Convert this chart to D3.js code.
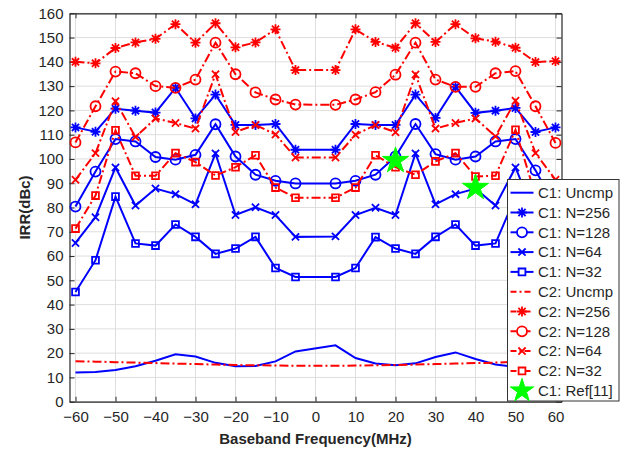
<!DOCTYPE html>
<html>
<head>
<meta charset="utf-8">
<script src="https://cdn.jsdelivr.net/npm/d3@7"></script>
<style>
  body { margin: 0; background: #fff; }
  svg { font-family: "Liberation Sans", Arial, sans-serif; }
</style>
</head>
<body>
<div id="chart"></div>
<script>
// frequencies (MHz) - no point at 0, lines just join -5 and 5
const freqs = [-60, -55, -50, -45, -40, -35, -30, -25, -20, -15, -10, -5,
               5, 10, 15, 20, 25, 30, 35, 40, 45, 50, 55, 60];

const c1Uncmp = [12.0, 12.2, 13.1, 14.6, 16.9, 19.5, 18.6, 16.0, 14.6, 14.7, 16.6, 20.7,
                 23.2, 18.0, 15.7, 15.0, 15.8, 18.4, 20.3, 17.6, 15.3, 14.3, 13.5, 12.5];
const c1N256 = [113, 111.2, 120.7, 119.9, 119.1, 129.3, 116.7, 126.5, 114, 114, 114.4, 103.8,
                103.8, 114.4, 114, 114, 126.5, 116.9, 129.7, 119, 119.9, 121, 111.1, 113];
const c1N128 = [80.4, 94.8, 108.2, 107.2, 100.8, 99.7, 101.7, 114.3, 101.0, 93.5, 91, 89.9,
                89.9, 91, 93.5, 101, 114.4, 102, 99.7, 101, 107.2, 108.2, 95.3, 80.4];
const c1N64 = [65.4, 76, 96.5, 80.8, 87.8, 85.5, 81.3, 102.3, 76.9, 80.1, 76.9, 67.9,
               68.1, 76.9, 79.9, 76.9, 102.3, 81.3, 85.5, 87.8, 80.8, 96.5, 76, 65.4];
const c1N32 = [45.2, 58.3, 84.5, 65.2, 64.3, 73, 67.9, 60.9, 63.1, 67.9, 55.1, 51.4,
               51.4, 55.1, 67.8, 63.1, 60.9, 67.9, 73, 64.3, 65.2, 84.5, 58.3, 45.2];

const c2Uncmp = [16.7, 16.5, 16.3, 16.1, 15.9, 15.7, 15.5, 15.3, 15.1, 15.0, 14.9, 14.8,
                 14.8, 14.9, 15.0, 15.1, 15.3, 15.5, 15.7, 15.9, 16.1, 16.4, 16.6, 16.8];
const c2N256 = [140, 139.4, 145.7, 148, 149.5, 155.5, 147.9, 155.9, 146, 148, 153.4, 136.6,
                136.6, 153.4, 148.2, 145.8, 155.9, 148.2, 155.5, 149.7, 148.3, 145.8, 139.9, 140.3];
const c2N128 = [106.8, 121.7, 136, 135.3, 130, 129.3, 132.7, 147.9, 134.9, 127.4, 124.5, 122.4,
                122.3, 124.5, 127.5, 134.7, 147.9, 132.7, 129.7, 129.7, 135.3, 136.2, 121.7, 106.6];
const c2N64 = [91.4, 102.4, 123.8, 109, 116.7, 114.8, 112.5, 134.9, 111.1, 114, 110.1, 100.6,
               100.6, 110, 114, 111, 134.8, 112.5, 114.8, 116.7, 109.3, 124, 102.4, 91.4];
const c2N32 = [71.3, 84.9, 111.8, 93.1, 93.1, 102.4, 98.7, 93.2, 96.6, 101.5, 88.2, 84,
               84, 88.2, 101.5, 96.6, 93.5, 99, 102.4, 92.8, 93.1, 112, 84.9, 71.3];

const refFreqs = [20, 40];
const refVals = [99.3, 88.2];

const xTicks = [-60, -50, -40, -30, -20, -10, 0, 10, 20, 30, 40, 50, 60];
const yTicks = [0, 10, 20, 30, 40, 50, 60, 70, 80, 90, 100, 110, 120, 130, 140, 150, 160];

const seriesNames = ["C1: Uncmp", "C1: N=256", "C1: N=128", "C1: N=64", "C1: N=32",
                     "C2: Uncmp", "C2: N=256", "C2: N=128", "C2: N=64", "C2: N=32", "C1: Ref[11]"];

const width = 628, height = 449;
const blue = "#0000ff", red = "#ff0000", green = "#00ff00";
const dashDot = "9,3,2,3";

let series = [
    {name: seriesNames[0], vals: c1Uncmp, color: blue, dash: null, marker: null},
    {name: seriesNames[1], vals: c1N256, color: blue, dash: null, marker: "asterisk"},
    {name: seriesNames[2], vals: c1N128, color: blue, dash: null, marker: "circle"},
    {name: seriesNames[3], vals: c1N64, color: blue, dash: null, marker: "times"},
    {name: seriesNames[4], vals: c1N32, color: blue, dash: null, marker: "square"},
    {name: seriesNames[5], vals: c2Uncmp, color: red, dash: dashDot, marker: null},
    {name: seriesNames[6], vals: c2N256, color: red, dash: dashDot, marker: "asterisk"},
    {name: seriesNames[7], vals: c2N128, color: red, dash: dashDot, marker: "circle"},
    {name: seriesNames[8], vals: c2N64, color: red, dash: dashDot, marker: "times"},
    {name: seriesNames[9], vals: c2N32, color: red, dash: dashDot, marker: "square"}
];

let svg = d3.select('#chart').append('svg')
    .attr('width', width)
    .attr('height', height);

let x = d3.scaleLinear().domain([-61.5, 61.5]).range([69.5, 561.5]);
let y = d3.scaleLinear().domain([0, 160]).range([401.7, 13.3]);

// grid
let grid = svg.append('g');
grid.selectAll('.gx').data(xTicks).join('line')
    .attr('x1', d => x(d)).attr('x2', d => x(d))
    .attr('y1', y(0)).attr('y2', y(160))
    .attr('stroke', '#dedede').attr('stroke-width', 1);
grid.selectAll('.gy').data(yTicks).join('line')
    .attr('x1', x.range()[0]).attr('x2', x.range()[1])
    .attr('y1', d => y(d)).attr('y2', d => y(d))
    .attr('stroke', '#dedede').attr('stroke-width', 1);

// axes (ticks inward, box on)
const axisColor = '#262626';
let xAxis = svg.append('g').attr('transform', `translate(0,${y(0)})`)
    .call(d3.axisBottom(x).tickValues(xTicks).tickSizeInner(-5).tickSizeOuter(0).tickPadding(10));
let xTop = svg.append('g').attr('transform', `translate(0,${y(160)})`)
    .call(d3.axisTop(x).tickValues(xTicks).tickSizeInner(-5).tickSizeOuter(0).tickFormat(''));
let yAxis = svg.append('g').attr('transform', `translate(${x.range()[0]},0)`)
    .call(d3.axisLeft(y).tickValues(yTicks).tickSizeInner(-5).tickSizeOuter(0).tickPadding(6));
let yRight = svg.append('g').attr('transform', `translate(${x.range()[1]},0)`)
    .call(d3.axisRight(y).tickValues(yTicks).tickSizeInner(-5).tickSizeOuter(0).tickFormat(''));

[xAxis, xTop, yAxis, yRight].forEach(a => {
    a.selectAll('path').attr('stroke', axisColor).attr('stroke-width', 1.2);
    a.selectAll('line').attr('stroke', axisColor);
    a.selectAll('text').attr('fill', axisColor).style('font-size', '15px')
        .style('font-family', '"Liberation Sans", Arial, sans-serif');
});

// labels
svg.append('text')
    .attr('x', (x.range()[0] + x.range()[1]) / 2).attr('y', 444)
    .attr('text-anchor', 'middle')
    .style('font-size', '15px').style('font-weight', 'bold').attr('fill', axisColor)
    .text('Baseband Frequency(MHz)');
svg.append('text')
    .attr('transform', `translate(30,${(y(0) + y(160)) / 2}) rotate(-90)`)
    .attr('text-anchor', 'middle')
    .style('font-size', '15px').style('font-weight', 'bold').attr('fill', axisColor)
    .text('IRR(dBc)');

// marker paths
function markerPath(type) {
    if (type === 'asterisk') {
        let r = 5, d = 3.6;
        return `M0,${-r}V${r}M${-r},0H${r}M${-d},${-d}L${d},${d}M${-d},${d}L${d},${-d}`;
    }
    if (type === 'times') {
        let d = 3.6;
        return `M${-d},${-d}L${d},${d}M${-d},${d}L${d},${-d}`;
    }
    if (type === 'square') {
        let s = 3.4;
        return `M${-s},${-s}H${s}V${s}H${-s}Z`;
    }
    if (type === 'circle') {
        let r = 5;
        return `M${r},0A${r},${r} 0 1,1 ${-r},0A${r},${r} 0 1,1 ${r},0Z`;
    }
    return '';
}

let starPath = d3.symbol().type(d3.symbolStar).size(210)();
let starPathSmall = d3.symbol().type(d3.symbolStar).size(170)();

let line = d3.line().x((d, i) => x(freqs[i])).y(d => y(d));

let plot = svg.append('g');
series.forEach(s => {
    plot.append('path')
        .attr('d', line(s.vals))
        .attr('fill', 'none')
        .attr('stroke', s.color)
        .attr('stroke-width', 2)
        .attr('stroke-dasharray', s.dash);
    if (s.marker) {
        plot.append('g').selectAll('path')
            .data(s.vals)
            .join('path')
            .attr('transform', (d, i) => `translate(${x(freqs[i])},${y(d)})`)
            .attr('d', markerPath(s.marker))
            .attr('fill', 'none')
            .attr('stroke', s.color)
            .attr('stroke-width', 1.8);
    }
});

plot.append('g').selectAll('path')
    .data(refVals)
    .join('path')
    .attr('transform', (d, i) => `translate(${x(refFreqs[i])},${y(d)})`)
    .attr('d', starPath)
    .attr('fill', green)
    .attr('stroke', green)
    .attr('stroke-width', 1);

// legend
let lg = svg.append('g');
lg.append('rect')
    .attr('x', 507.5).attr('y', 179.5)
    .attr('width', 111.5).attr('height', 221.5)
    .attr('fill', '#fff').attr('stroke', '#333').attr('stroke-width', 1);

let legendItems = series.concat([{name: seriesNames[10], color: green, star: true}]);
legendItems.forEach((s, i) => {
    let cy = 192.7 + i * 19.8;
    let row = lg.append('g');
    if (s.star) {
        row.append('path')
            .attr('transform', `translate(522,${cy})`)
            .attr('d', starPathSmall)
            .attr('fill', green).attr('stroke', green);
    } else {
        row.append('line')
            .attr('x1', 510.5).attr('x2', 533.5)
            .attr('y1', cy).attr('y2', cy)
            .attr('stroke', s.color).attr('stroke-width', 2)
            .attr('stroke-dasharray', s.dash ? '6,3,2,3' : null);
        if (s.marker) {
            row.append('path')
                .attr('transform', `translate(522,${cy})`)
                .attr('d', markerPath(s.marker))
                .attr('fill', s.marker === 'circle' || s.marker === 'square' ? '#fff' : 'none')
                .attr('stroke', s.color).attr('stroke-width', 1.8);
        }
    }
    row.append('text')
        .attr('x', 538).attr('y', cy + 5.3)
        .style('font-size', '15px').attr('fill', axisColor)
        .text(s.name);
});
</script>
</body>
</html>
